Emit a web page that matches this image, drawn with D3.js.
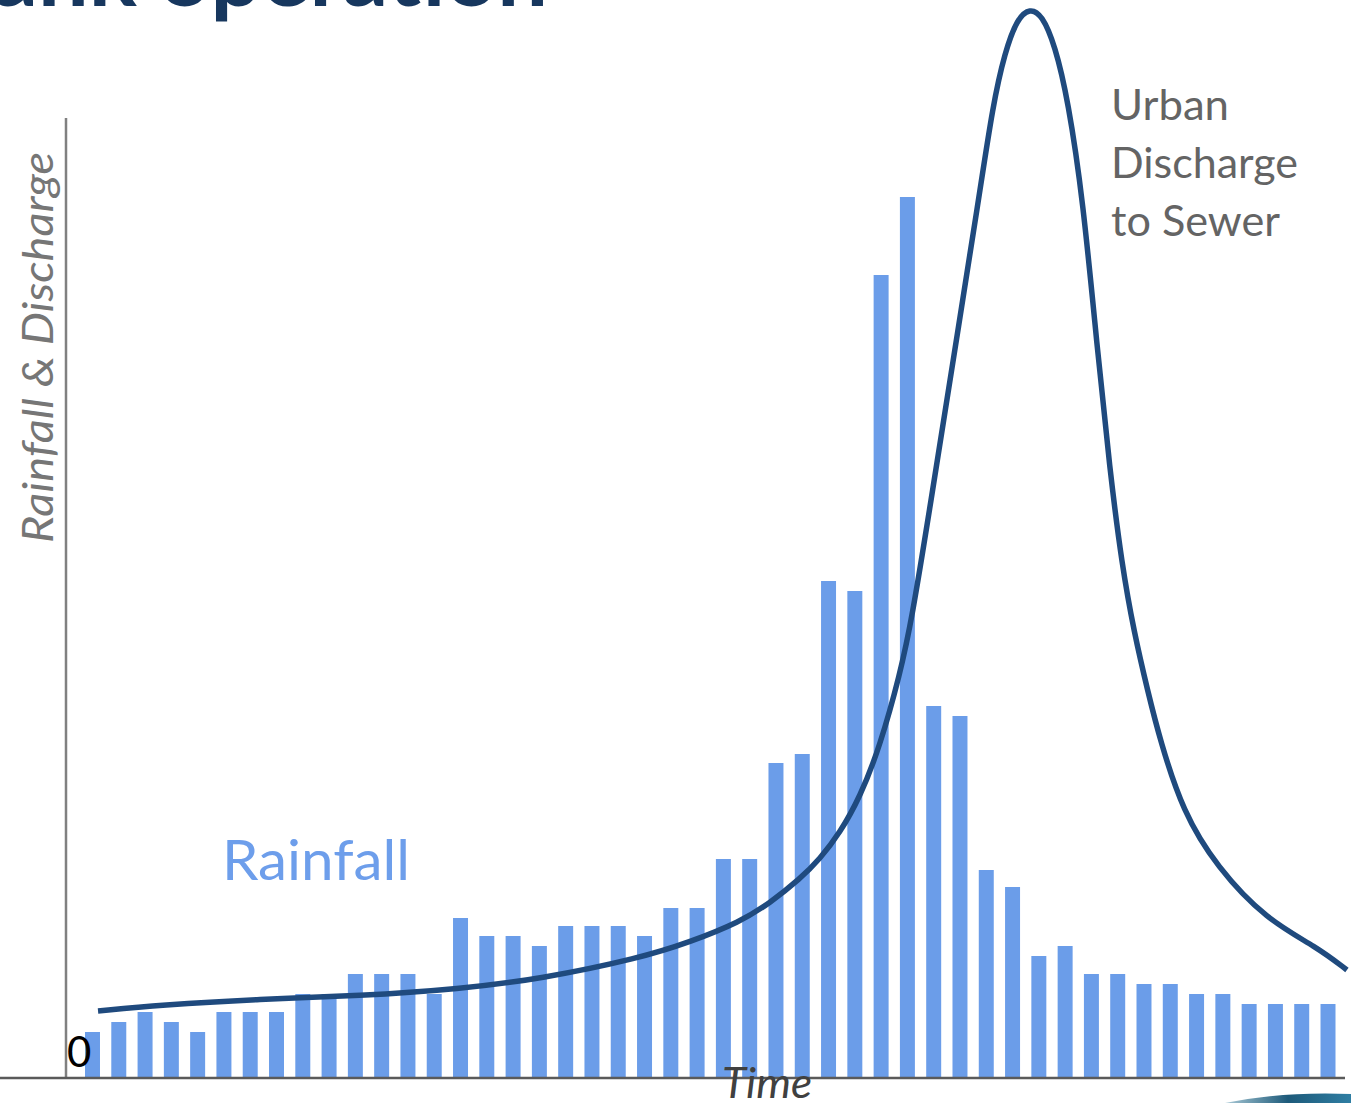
<!DOCTYPE html>
<html>
<head>
<meta charset="utf-8">
<script src="https://cdn.jsdelivr.net/npm/d3@7"></script>
<style>
  html, body { margin: 0; padding: 0; background: #ffffff; }
  svg { display: block; }
</style>
</head>
<body>
<script>
// Rainfall hyetograph (bars) and the resulting urban discharge hydrograph (line)

// time steps, one per rainfall bar
const timeSteps = d3.range(48);

// rainfall intensity per time step
const rainfall = [
  4.6, 5.6, 6.6, 5.6, 4.6, 6.6, 6.6, 6.6, 8.4, 8.4,
  10.4, 10.4, 10.4, 8.4, 16.0, 14.2, 14.2, 13.2, 15.2, 15.2,
  15.2, 14.2, 17.0, 17.0, 21.9, 21.9, 31.5, 32.4, 49.7, 48.7,
  80.3, 88.1, 37.2, 36.2, 20.8, 19.1, 12.2, 13.2, 10.4, 10.4,
  9.4, 9.4, 8.4, 8.4, 7.4, 7.4, 7.4, 7.4
];

// discharge to sewer: sample times (in time steps) and values
const dischargeTime = [
  0.21, 2.57, 6.37, 10.17, 13.98, 17.02, 20.83, 22.73, 24.63, 25.77,
  26.91, 27.67, 28.43, 29.20, 29.96, 30.72, 31.17, 31.86, 32.73, 33.72,
  34.25, 34.71, 35.17, 35.66, 36.12, 36.61, 37.11, 37.68, 38.21, 38.70,
  39.16, 39.62, 40.15, 40.61, 41.48, 42.77, 44.67, 46.58, 47.72
];
const dischargeValue = [
  6.7, 7.3, 7.9, 8.2, 8.9, 9.9, 12.0, 13.6, 15.6, 17.5,
  19.9, 21.9, 24.5, 28.1, 33.2, 40.4, 45.9, 57.1, 71.6, 88.0,
  97.3, 102.6, 105.9, 107.0, 106.3, 103.3, 97.8, 87.8, 73.3, 60.8,
  51.3, 44.6, 38.6, 33.8, 26.6, 21.1, 15.8, 13.1, 10.8
];

// axis and annotation text
const yTickLabels = ["0"];
const yAxisTitle = "Rainfall & Discharge";
const xAxisTitle = "Time";
const rainfallLabel = "Rainfall";
const dischargeLabel = ["Urban", "Discharge", "to Sewer"];
const headline = "Tank operation";

const W = 1351, H = 1103;
const svg = d3.select("body").append("svg")
  .attr("width", W).attr("height", H)
  .attr("viewBox", `0 0 ${W} ${H}`);

const baseY = 1078;
const axisX = 66;

const x = d3.scaleBand()
  .domain(timeSteps)
  .range([79.35, 1341.15])
  .paddingInner(0.43)
  .paddingOuter(0.215);

const xt = d3.scaleLinear()
  .domain([-0.5, timeSteps.length - 0.5])
  .range([79.35, 1341.15]);

const y = d3.scaleLinear().domain([0, 96]).range([baseY, 118]);

const barColor = "#6b9de9";
const lineColor = "#1f4a7e";

// headline, mostly above the visible area
svg.append("text")
  .attr("x", 548).attr("y", 6)
  .attr("text-anchor", "end")
  .attr("font-family", "Lato, 'Open Sans', sans-serif")
  .attr("font-weight", 700)
  .attr("font-size", 90)
  .attr("fill", "#17375e")
  .text(headline);

// rainfall bars
svg.append("g").selectAll("rect")
  .data(rainfall)
  .join("rect")
  .attr("x", (d, i) => x(i))
  .attr("width", x.bandwidth())
  .attr("y", d => y(d))
  .attr("height", d => y(0) - y(d))
  .attr("fill", barColor);

// discharge hydrograph, drawn as a smooth B-spline through the samples
const pts = dischargeTime.map((t, i) => [t, dischargeValue[i]]);
const line = d3.line()
  .x(d => xt(d[0]))
  .y(d => y(d[1]))
  .curve(d3.curveBasis);

svg.append("path")
  .datum(pts)
  .attr("d", line)
  .attr("fill", "none")
  .attr("stroke", lineColor)
  .attr("stroke-width", 5.5)
  .attr("stroke-linecap", "butt")
  .attr("stroke-linejoin", "round");

// y axis: plain line with the zero label inside the plot
const yAxis = d3.axisRight(y)
  .tickValues([0])
  .tickFormat((d, i) => yTickLabels[i])
  .tickSize(0)
  .tickPadding(1);

const gy = svg.append("g")
  .attr("transform", `translate(${axisX},0)`)
  .call(yAxis);
gy.select(".domain")
  .attr("d", `M0,${y(96)}V${baseY}`)
  .attr("stroke", "#808080")
  .attr("stroke-width", 2.5);
gy.selectAll(".tick text")
  .attr("font-family", "Lato, sans-serif")
  .attr("font-size", 42)
  .attr("fill", "#000")
  .attr("dy", "-0.27em");

// x axis line across the full width
svg.append("line")
  .attr("x1", 0).attr("x2", 1345)
  .attr("y1", baseY).attr("y2", baseY)
  .attr("stroke", "#5a5a5a")
  .attr("stroke-width", 2.5);

// axis titles
svg.append("text")
  .attr("transform", `translate(53,543) rotate(-90)`)
  .attr("font-family", "Lato, sans-serif")
  .attr("font-style", "italic")
  .attr("font-size", 42)
  .attr("fill", "#767676")
  .attr("textLength", 391)
  .attr("lengthAdjust", "spacingAndGlyphs")
  .text(yAxisTitle);

svg.append("text")
  .attr("x", 722).attr("y", 1098)
  .attr("font-family", "Lato, sans-serif")
  .attr("font-style", "italic")
  .attr("font-size", 42)
  .attr("fill", "#404040")
  .attr("textLength", 90)
  .attr("lengthAdjust", "spacingAndGlyphs")
  .text(xAxisTitle);

// series labels
svg.append("text")
  .attr("x", 222).attr("y", 880)
  .attr("font-family", "Lato, sans-serif")
  .attr("font-size", 56)
  .attr("fill", "#6d9eeb")
  .attr("textLength", 188)
  .attr("lengthAdjust", "spacingAndGlyphs")
  .text(rainfallLabel);

const dl = svg.append("text")
  .attr("font-family", "Lato, sans-serif")
  .attr("font-size", 42)
  .attr("fill", "#646464");
const dlWidths = [118, 187, 169];
dischargeLabel.forEach((s, i) => {
  dl.append("tspan")
    .attr("x", 1111)
    .attr("y", 120 + i * 58)
    .attr("textLength", dlWidths[i])
    .attr("lengthAdjust", "spacingAndGlyphs")
    .text(s);
});

// decorative wave at the bottom right corner
const grad = svg.append("defs").append("linearGradient")
  .attr("id", "wave").attr("x1", 0).attr("x2", 1);
grad.append("stop").attr("offset", 0).attr("stop-color", "#a9c9d6");
grad.append("stop").attr("offset", 0.5).attr("stop-color", "#1d5a7a");
grad.append("stop").attr("offset", 1).attr("stop-color", "#2f7ea3");
svg.append("path")
  .attr("d", "M1225,1103 C1260,1096 1300,1092 1351,1094 L1351,1103 Z")
  .attr("fill", "url(#wave)");
</script>
</body>
</html>
